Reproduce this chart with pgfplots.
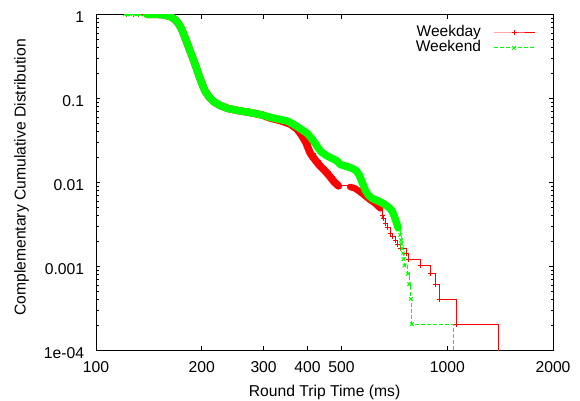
\documentclass[border=0pt]{standalone}
\usepackage{fontspec}
\setmainfont{Liberation Sans}
\usepackage{pgfplots}
\pgfplotsset{compat=1.18}
\usepackage{pgfplotstable}
\definecolor{gpred}{RGB}{255,0,0}
\definecolor{gpgreen}{RGB}{0,255,0}

\pgfplotstableread{
x y
122.5 1
127.5 1
131.7 1
137.0 1
139.8 1
142.5 1
146.3 1
149.2 0.998
152.2 0.992
155.2 0.985
158.3 0.968
161.4 0.947
163.6 0.929
165.7 0.899
167.9 0.867
171.2 0.788
174.7 0.687
178.1 0.567
181.7 0.455
185.3 0.366
189.0 0.294
192.7 0.236
196.6 0.184
200.5 0.148
204.4 0.122
209.9 0.1036
216.9 0.0904
225.6 0.0821
237.7 0.0756
253.8 0.0715
274.7 0.0677
297.2 0.0633
313.2 0.0583
334.4 0.0544
357.0 0.0494
373.8 0.0431
386.3 0.0356
396.5 0.0294
407.1 0.0223
420.7 0.0184
434.7 0.0156
449.2 0.0136
464.2 0.0116
476.5 0.0101
490.1 0.00904
529.2 0.00880
546.9 0.00844
565.1 0.00766
583.9 0.00687
603.4 0.00615
623.5 0.00559
644.3 0.00490
654 0.00408
660 0.00367
665.7 0.00327
677 0.00286
688 0.00245
699 0.00224
711 0.00204
723 0.00184
734.6 0.00163
764 0.00143
776 0.00122
838 0.00102
894 0.000816
924 0.000612
949 0.000408
1061 0.000204
1397 0.00001
}\weekday

\pgfplotstableread{
x y
120.9 1
123.4 1
125.0 1
129.2 1
130.9 1
133.5 1
137.0 1
139.8 1
142.5 1
146.3 1
149.2 0.998
152.2 0.992
155.2 0.985
158.3 0.968
161.4 0.947
163.6 0.929
165.7 0.899
167.9 0.867
171.2 0.788
174.7 0.687
178.1 0.567
181.7 0.455
185.3 0.366
189.0 0.294
192.7 0.236
196.6 0.184
200.5 0.148
204.4 0.122
209.9 0.1036
216.9 0.0904
225.6 0.0821
237.7 0.0756
253.8 0.0715
274.7 0.0677
297.2 0.0633
313.2 0.0594
334.4 0.0559
350.1 0.0537
361.7 0.0501
373.8 0.0459
386.3 0.0420
399.2 0.0383
409.8 0.0337
420.7 0.0291
429.0 0.0256
437.5 0.0230
452.1 0.0209
467.2 0.0195
486.0 0.0179
495.6 0.0163
529.2 0.0150
550.5 0.0138
561.4 0.0122
568.8 0.0107
576.3 0.0093
583.9 0.0081
595.5 0.0071
611.4 0.0064
635.9 0.0060
661.4 0.0055
683.4 0.0050
697.0 0.00455
706.2 0.00397
715.6 0.00337
725.0 0.00286
734.6 0.00236
739 0.00204
741 0.00184
743 0.00163
748 0.00143
751 0.00122
756 0.00102
773 0.000816
779 0.000612
788 0.000408
793 0.000204
1040 0.00001
}\weekend

\begin{document}
\begin{tikzpicture}
\begin{axis}[
  xmode=log, ymode=log,
  scale only axis, width=457bp, height=336bp,
  xmin=100, xmax=2000, ymin=1e-4, ymax=1,
  xtick={100,200,300,400,500,1000,2000},
  xticklabels={100,200,300,400,500,1000,2000},
  minor xtick={},
  ytick={1e-4,1e-3,1e-2,1e-1,1},
  yticklabels={1e-04,0.001,0.01,0.1,1},
  minor ytick={2e-4,3e-4,4e-4,5e-4,6e-4,7e-4,8e-4,9e-4,
               2e-3,3e-3,4e-3,5e-3,6e-3,7e-3,8e-3,9e-3,
               2e-2,3e-2,4e-2,5e-2,6e-2,7e-2,8e-2,9e-2,
               2e-1,3e-1,4e-1,5e-1,6e-1,7e-1,8e-1,9e-1},
  tick align=inside,
  major tick length=4.5bp, minor tick length=2.5bp,
  every tick/.style={black, line width=0.8bp},
  axis line style={black, line width=1bp},
  tick label style={font=\fontsize{15.7bp}{18bp}\selectfont, inner sep=0pt},
  xticklabel style={anchor=north, yshift=-11.4bp},
  yticklabel style={anchor=east, xshift=-11.7bp, yshift=-2.5bp},
  label style={font=\fontsize{15.7bp}{18bp}\selectfont, inner sep=0pt},
  xlabel={Round Trip Time (ms)},
  ylabel={Complementary Cumulative Distribution},
  xlabel style={at={(axis description cs:0.5,-0.13601)}, anchor=base},
  ylabel style={at={(axis description cs:-0.15427,0.51429)}, anchor=base},
  clip marker paths=true,
  legend style={draw=none, fill=none, inner sep=0pt, outer sep=0pt,
    at={(axis description cs:0.9606,0.9667)}, anchor=north east,
    font=\fontsize{15.5bp}{18bp}\selectfont,
    nodes={inner sep=0pt, text height=11.5bp, text depth=3.5bp},
    column sep=12bp, row sep=0pt},
  legend cell align=right,
  legend plot pos=right,
  legend image code/.code={\draw[mark repeat=2,mark phase=2] plot coordinates {(0bp,0bp) (20.5bp,0bp) (41bp,0bp)};},
]
% Weekday band (dense region)
\addplot[forget plot, gpred, line width=7.5bp, line join=round, line cap=round,
  skip coords between index={0}{4}, skip coords between index={45}{1000}] table[x=x,y=y] {\weekday};
\addplot[forget plot, gpred, line width=6.5bp, line join=round, line cap=round,
  skip coords between index={0}{45}, skip coords between index={52}{1000}] table[x=x,y=y] {\weekday};
\addplot[const plot, gpred, line width=1bp, mark=+, mark size=2.5bp,
  mark options={solid, line width=1bp}] table[x=x,y=y] {\weekday};
% Weekend band (dense region)
\addplot[forget plot, gpgreen, line width=7.5bp, line join=round, line cap=round,
  skip coords between index={0}{7}, skip coords between index={65}{1000}] table[x=x,y=y] {\weekend};
\addplot[const plot, gpgreen, line width=1bp, dash pattern=on 4bp off 2bp, mark=x, mark size=2.5bp,
  mark options={solid, line width=1bp}] table[x=x,y=y] {\weekend};
\legend{Weekday,Weekend}
\end{axis}
\pgfresetboundingbox
\useasboundingbox (-96bp,-50.7bp) rectangle (484bp,350.3bp);
\end{tikzpicture}
\end{document}
